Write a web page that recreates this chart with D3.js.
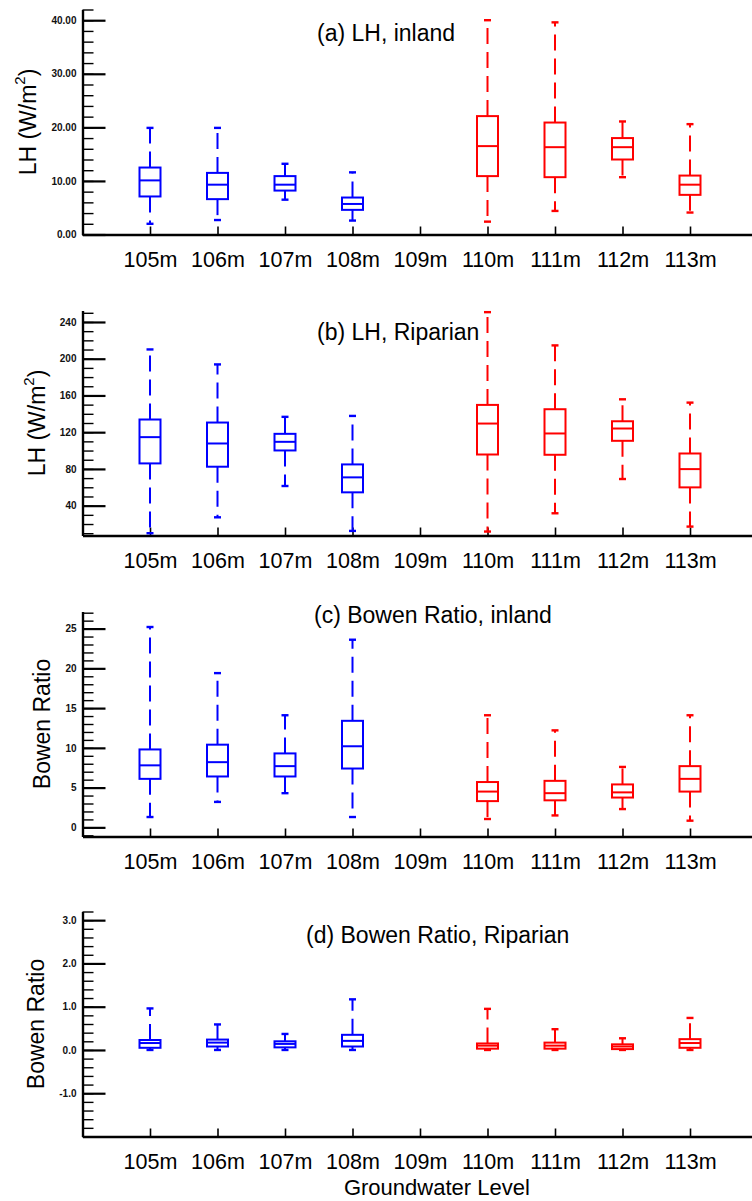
<!DOCTYPE html>
<html>
<head>
<meta charset="utf-8">
<script src="https://cdn.jsdelivr.net/npm/d3@7"></script>
<style>
  html, body { margin: 0; padding: 0; background: #fff; }
  svg { display: block; }
</style>
</head>
<body>
<svg id="chart" width="752" height="1201"></svg>
<script>
// Groundwater levels along the x axis (109m has no samples)
const categories = ["105m", "106m", "107m", "108m", "109m", "110m", "111m", "112m", "113m"];
// Site group per level: deep water table ("deep") vs. shallow ("shallow")
const levelGroup = ["deep", "deep", "deep", "deep", null, "shallow", "shallow", "shallow", "shallow"];

// Box statistics per level: [min, q1, median, q3, max]
const lhInland = [
  [2.0, 7.1, 10.1, 12.5, 19.9],
  [2.7, 6.6, 9.3, 11.5, 19.9],
  [6.5, 8.2, 9.3, 10.9, 13.2],
  [2.6, 4.6, 5.7, 6.9, 11.6],
  null,
  [2.4, 10.9, 16.5, 22.1, 40.0],
  [4.4, 10.7, 16.3, 20.9, 39.6],
  [10.7, 14.0, 16.3, 18.0, 21.1],
  [4.1, 7.4, 9.3, 11.0, 20.6]
];
const lhRiparian = [
  [10.0, 86.0, 114.6, 133.8, 210.1],
  [27.3, 82.4, 107.7, 130.5, 193.8],
  [61.4, 100.1, 109.5, 118.2, 136.7],
  [12.5, 54.5, 70.8, 84.9, 137.7],
  null,
  [11.8, 95.7, 129.4, 149.7, 250.7],
  [31.7, 95.4, 118.6, 145.0, 214.5],
  [69.0, 110.6, 124.0, 131.9, 155.8],
  [17.2, 59.9, 79.8, 96.8, 152.2]
];
const bowenInland = [
  [1.3, 6.1, 7.8, 9.8, 25.2],
  [3.2, 6.4, 8.2, 10.4, 19.4],
  [4.3, 6.4, 7.7, 9.3, 14.1],
  [1.3, 7.4, 10.2, 13.4, 23.6],
  null,
  [1.05, 3.3, 4.5, 5.7, 14.1],
  [1.5, 3.4, 4.3, 5.85, 12.2],
  [2.3, 3.75, 4.4, 5.4, 7.6],
  [0.84, 4.5, 6.1, 7.7, 14.1]
];
const bowenRiparian = [
  [0.0, 0.05, 0.16, 0.23, 0.96],
  [0.0, 0.08, 0.17, 0.24, 0.59],
  [0.0, 0.06, 0.14, 0.20, 0.37],
  [0.0, 0.08, 0.21, 0.35, 1.17],
  null,
  [0.0, 0.03, 0.10, 0.15, 0.95],
  [0.0, 0.03, 0.10, 0.17, 0.48],
  [0.0, 0.02, 0.08, 0.13, 0.27],
  [0.0, 0.05, 0.16, 0.25, 0.74]
];

// Y axis tick values and labels
const lhInlandTicks = [0, 10, 20, 30, 40];
const lhInlandTickLabels = ["0.00", "10.00", "20.00", "30.00", "40.00"];
const lhRiparianTicks = [40, 80, 120, 160, 200, 240];
const lhRiparianTickLabels = ["40", "80", "120", "160", "200", "240"];
const bowenInlandTicks = [0, 5, 10, 15, 20, 25];
const bowenInlandTickLabels = ["0", "5", "10", "15", "20", "25"];
const bowenRiparianTicks = [-1, 0, 1, 2, 3];
const bowenRiparianTickLabels = ["-1.0", "0.0", "1.0", "2.0", "3.0"];

const FONT = "'Liberation Sans', Arial, Helvetica, sans-serif";
const colorOf = { deep: "#0000ff", shallow: "#ff0000" };

const panels = [
  { stats: lhInland, title: "(a) LH, inland", yTitle: "LH", unit: true,
    domain: [0, 42], ticks: lhInlandTicks, labels: lhInlandTickLabels, minorStep: 2,
    top: 9.5, titleX: 317, titleY: 41 },
  { stats: lhRiparian, title: "(b) LH, Riparian", yTitle: "LH", unit: true,
    domain: [7.5, 252.5], ticks: lhRiparianTicks, labels: lhRiparianTickLabels, minorStep: 10,
    top: 310.5, titleX: 317, titleY: 340 },
  { stats: bowenInland, title: "(c) Bowen Ratio, inland", yTitle: "Bowen Ratio", unit: false,
    domain: [-1.15, 27.15], ticks: bowenInlandTicks, labels: bowenInlandTickLabels, minorStep: 1,
    top: 611.5, titleX: 314, titleY: 623 },
  { stats: bowenRiparian, title: "(d) Bowen Ratio, Riparian", yTitle: "Bowen Ratio", unit: false,
    domain: [-2, 3.2], ticks: bowenRiparianTicks, labels: bowenRiparianTickLabels, minorStep: 0.2,
    top: 911.5, titleX: 306, titleY: 943 }
];

const svg = d3.select("#chart");
const left = 82.5;
const H = 225;
const x = d3.scaleLinear().domain([0, 10.5]).range([left, 791.25]);
const boxW = 21, capW = 7;

panels.forEach(p => {
  const g = svg.append("g").attr("transform", `translate(0,${p.top})`);
  const y = d3.scaleLinear().domain(p.domain).range([H, 0]);

  // minor ticks on the left axis
  const lo = Math.ceil(p.domain[0] / p.minorStep - 1e-6);
  const hi = Math.floor(p.domain[1] / p.minorStep + 1e-6);
  const minor = d3.range(lo, hi + 1).map(k => +(k * p.minorStep).toFixed(4));
  const ym = g.append("g").attr("transform", `translate(${left},0)`)
    .call(d3.axisLeft(y).tickValues(minor).tickFormat("").tickSizeInner(-11).tickSizeOuter(0));
  ym.select(".domain").remove();
  ym.selectAll(".tick line").attr("stroke", "#000").attr("stroke-width", 1.4);

  // major ticks with labels
  const ya = g.append("g").attr("transform", `translate(${left},0)`)
    .call(d3.axisLeft(y).tickValues(p.ticks).tickFormat((d, i) => p.labels[i])
      .tickSizeInner(-23).tickSizeOuter(0).tickPadding(6));
  ya.attr("font-family", FONT).attr("font-size", 10);
  ya.select(".domain").attr("stroke", "#000").attr("stroke-width", 2.4);
  ya.selectAll(".tick line").attr("stroke", "#000").attr("stroke-width", 2.2);
  ya.selectAll(".tick text").attr("font-weight", "bold").attr("fill", "#111");

  // x axis
  const xa = g.append("g").attr("transform", `translate(0,${H})`)
    .call(d3.axisBottom(x).tickValues(d3.range(1, categories.length + 1))
      .tickFormat((d, i) => categories[i]).tickSizeInner(-8).tickSizeOuter(0).tickPadding(17.5));
  xa.attr("font-family", FONT).attr("font-size", 21.5);
  xa.select(".domain").attr("stroke", "#000").attr("stroke-width", 2.4);
  xa.selectAll(".tick line").attr("stroke", "#000").attr("stroke-width", 1.6);
  xa.selectAll(".tick text").attr("fill", "#000");

  // panel title
  g.append("text")
    .attr("x", p.titleX).attr("y", p.titleY - p.top)
    .attr("font-family", FONT).attr("font-size", 23).attr("fill", "#000")
    .text(p.title);

  // y axis title, placed left of the widest tick label
  const minLabelX = d3.min(ya.selectAll(".tick text").nodes(), n => n.getBBox().x) + left;
  const yt = g.append("text")
    .attr("transform", `translate(${minLabelX - 23},${H / 2}) rotate(-90)`)
    .attr("text-anchor", "middle").attr("dominant-baseline", "central")
    .attr("font-family", FONT).attr("font-size", 23).attr("fill", "#000");
  if (p.unit) {
    yt.append("tspan").text(p.yTitle + " (W/m");
    yt.append("tspan").attr("font-size", 15).attr("dy", -9).text("2");
    yt.append("tspan").attr("dy", 9).text(")");
  } else {
    yt.text(p.yTitle);
  }

  // box plots
  p.stats.forEach((s, i) => {
    if (!s) return;
    const [mn, q1, md, q3, mx] = s;
    const cx = x(i + 1);
    const c = colorOf[levelGroup[i]];
    const b = g.append("g").attr("stroke", c).attr("fill", "none").attr("stroke-width", 2);
    // whiskers, dashed from the box edge outwards
    b.append("line").attr("x1", cx).attr("x2", cx).attr("y1", y(q3)).attr("y2", y(mx))
      .attr("stroke-dasharray", "16 8");
    b.append("line").attr("x1", cx).attr("x2", cx).attr("y1", y(q1)).attr("y2", y(mn))
      .attr("stroke-dasharray", "16 8");
    // whisker caps
    [mn, mx].forEach(v => {
      b.append("line").attr("x1", cx - capW / 2).attr("x2", cx + capW / 2)
        .attr("y1", y(v)).attr("y2", y(v)).attr("stroke-width", 2.4);
    });
    // box and median
    b.append("rect").attr("x", cx - boxW / 2).attr("y", y(q3))
      .attr("width", boxW).attr("height", Math.max(0, y(q1) - y(q3)))
      .attr("fill", "#fff");
    b.append("line").attr("x1", cx - boxW / 2).attr("x2", cx + boxW / 2)
      .attr("y1", y(md)).attr("y2", y(md));
  });
});

// shared x axis title
svg.append("text")
  .attr("x", (x.range()[0] + x.range()[1]) / 2).attr("y", 1194.5)
  .attr("text-anchor", "middle")
  .attr("font-family", FONT).attr("font-size", 22).attr("fill", "#000")
  .text("Groundwater Level");
</script>
</body>
</html>
